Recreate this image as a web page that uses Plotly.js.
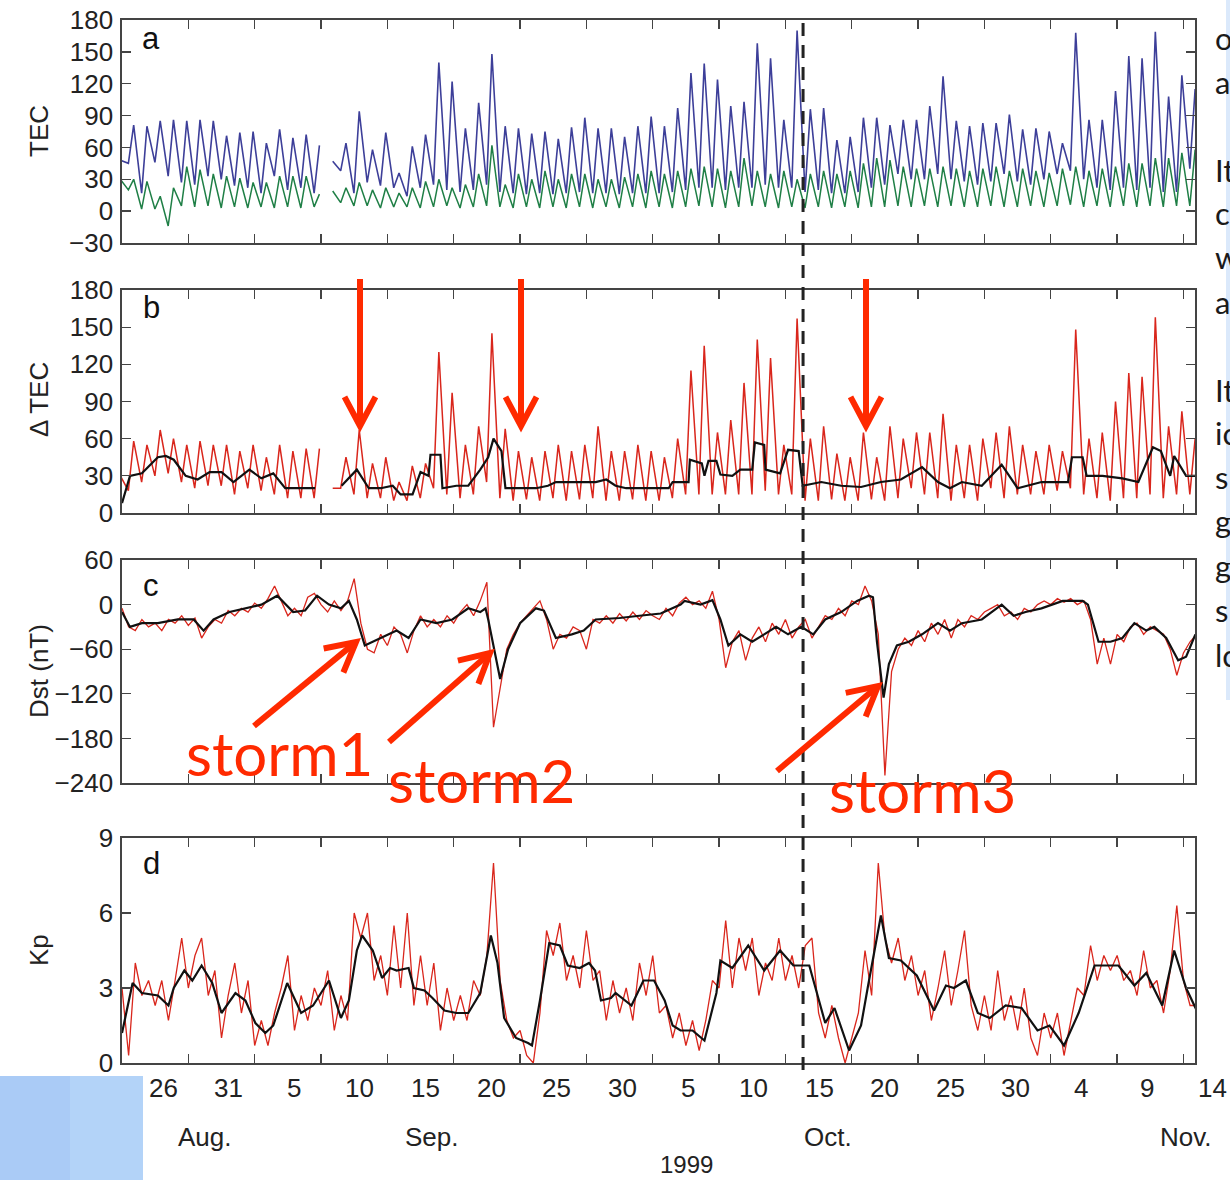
<!DOCTYPE html>
<html><head><meta charset="utf-8">
<script src="https://cdn.plot.ly/plotly-3.0.1.min.js"></script>
<style>html,body{margin:0;padding:0;background:#fff;} #chart{width:1230px;height:1180px;}</style>
</head><body><div id="chart"></div>
<script>
// ---------------- DATA ----------------
// day index n (days from the tick of 26 Aug), one diurnal cycle per day; null = data gap
const dayIndex = [-5,-4,-3,-2,-1,0,1,2,3,4,5,6,7,8,9,10,11,12,13,14,15,16,17,18,19,20,21,22,23,24,25,26,27,28,29,30,31,32,33,34,35,36,37,38,39,40,41,42,43,44,45,46,47,48,49,50,51,52,53,54,55,56,57,58,59,60,61,62,63,64,65,66,67,68,69,70,71,72,73,74,75,76];

// Panel a: TEC (blue) daily max / min
const tecBlueMax = [48,81,80,85,86,85,86,85,71,74, 75,64,77,69,72,62,47,64,94,58, 74,36,61,72,140,122,78,102,148,80, 78,73,75,68,79,88,78,78,70,80, 89,80,97,130,139,124,99,103,158,144, 86,170,96,97,67,70,88,88,81,86, 86,99,127,85,80,83,83,91,77,78, 75,64,168,86,86,113,146,144,169,108, 128,115];
const tecBlueMin = [null,45,17,46,33,27,25,33,30,24, 22,17,33,20,22,17,null,38,17,27, 24,22,14,22,25,20,18,20,25,18, 17,16,17,16,17,18,17,17,16,17, 17,17,18,20,22,22,20,22,22,25, 22,22,18,20,17,17,18,22,25,35, 30,30,35,30,28,25,28,35,28,25, 30,35,38,30,22,20,22,20,22,18, 18,40];
// Panel a: TEC (green) daily max / min
const tecGreenMax = [30,30,28,14,22,42,39,35,33,31, 27,27,33,33,33,16,19,22,27,20, 22,17,22,28,30,22,25,35,62,25, 35,30,38,30,35,35,30,30,32,35, 38,35,38,40,42,40,38,50,38,35, 38,30,35,38,35,38,45,50,48,42, 40,40,42,40,38,40,42,38,40,38, 36,40,42,38,40,42,45,45,50,50, 55,58];
const tecGreenMin = [null,20,2,2,-14,5,4,5,3,4, 3,4,3,4,3,4,null,8,5,5, 3,4,4,3,4,5,3,4,5,4, 3,4,3,4,3,4,3,4,3,4, 3,4,3,4,5,4,3,4,5,4, 3,4,3,4,3,4,3,4,4,5, 4,5,4,5,4,4,5,4,4,5, 4,5,6,4,5,4,5,4,5,4, 5,5];

// Panel b: ΔTEC (red) daily max / min
const dtecMax = [30,58,55,67,60,55,58,55,55,50, 55,45,55,50,52,52,20,45,67,40, 45,25,38,40,130,97,55,70,145,68, 50,45,50,55,50,55,70,50,50,55, 50,45,60,115,135,65,75,105,140,125, 55,157,60,70,48,45,65,45,70,60, 65,65,80,55,55,60,65,70,55,50, 55,50,148,60,65,90,113,110,158,70, 82,60];
const dtecMin = [null,18,25,30,32,25,20,22,22,15, 20,18,15,12,12,12,null,20,15,12, 12,10,10,12,20,15,12,15,25,12, 10,11,10,12,10,11,12,10,10,11, 10,10,12,15,15,15,15,15,15,18, 15,15,10,10,11,10,10,11,10,12, 20,15,12,10,12,10,20,12,15,15, 15,18,20,15,12,10,12,12,15,12, 15,15];
// Panel b: smoothed ΔTEC (black)
const dtecSmoothT = [-5,-4.4,-3.5,-2.3,-1.7,-1.1,-0.2,0.7,1.6,2.5,3.4,4.6,5.5,6.4,7.3,8.5,9.55,10.5,
  11.55,12.7,13.6,14.5,15.4,16.0,16.9,17.5,18.1,18.25,19.0,19.15,20.2,21.1,22.0,22.6,23.0,23.6,23.9,24.7,26.2,27.1,27.7,29.2,30.7,31.5,32.2,33.0,36.2,36.5,37.7,37.8,38.7,38.9,39.2,39.8,40.1,41.0,41.6,42.5,42.7,43.4,43.5,44.6,45.2,46.0,46.3,47.7,49.2,50.7,52.2,53.7,55.3,56.5,57.4,58.3,59.8,61.3,62.5,64.3,66.3,66.6,67.4,67.7,68.9,70.4,71.6,72.7,73.3,74.0,74.3,75.2,75.9];
const dtecSmoothV = [8,30,32,45,46,43,30,27,33,33,25,35,28,32,20,20,20,null,
  22,35,20,20,22,15,15,33,30,47,47,20,22,22,35,45,60,50,20,20,20,22,25,25,25,27,22,20,20,25,25,43,40,30,42,42,31,30,35,35,57,55,35,32,51,50,22,25,22,21,25,27,37,25,20,25,22,39,20,25,25,45,45,30,30,28,25,53,50,30,46,30,30];

// Panel c: Dst (nT), red = half-day samples from day -5, black = smoothed
const dstRed = [-5,-30,-35,-20,-30,-25,-35,-20,-25,-15, -28,-18,-45,-30,-20,-25,-8,-15,-5,-10,
  2,-5,8,25,5,-15,-5,-15,10,15, 0,-10,5,-8,5,35,-25,-60,-65,-40,
  -55,-30,-40,-65,-35,-15,-30,-20,-30,-15, -25,-10,0,-15,5,30,-165,-110,-60,-40,
  -25,-15,-5,5,-20,-60,-40,-45,-30,-35, -60,-20,-25,-15,-25,-12,-22,-10,-20,-8,
  -15,-20,-5,-15,2,10,0,5,-5,18, -20,-85,-50,-35,-75,-45,-30,-50,-25,-40,
  -20,-45,-30,-20,-45,-30,-15,-20,-5,-15, 5,0,25,5,-40,-230,-90,-60,-45,-55,
  -35,-50,-25,-40,-20,-45,-20,-30,-15,-20, -10,-5,0,-15,-10,-20,-5,-10,0,5,
  0,8,3,8,0,5,-20,-80,-45,-80, -40,-50,-30,-25,-40,-30,-35,-40,-60,-95,
  -65,-50,-40];
const dstSmoothT = [-5,-4.4,-3.5,-2.3,-0.8,0.4,1.15,1.9,3.1,4.3,5.5,6.7,7.9,8.8,9.7,10.6,11.5,12.1,12.7,13.3,14.5,15.7,16.6,17.5,18.7,19.9,21.1,22.0,22.4,22.6,23.5,24.1,25.0,26.2,26.8,27.7,28.9,29.8,30.7,32.5,34.0,35.6,37.1,37.4,38.6,39.5,40.1,40.7,41.6,42.5,43.4,44.3,45.2,46.2,47.1,48.0,49.2,50.4,51.3,51.6,51.9,52.4,52.8,53.4,54.3,55.3,56.5,57.4,58.3,59.8,61.3,62.2,63.1,64.3,65.9,67.4,67.8,68.6,69.5,70.4,71.3,72.2,72.8,73.7,74.6,75.2,75.9];
const dstSmoothV = [-10,-30,-25,-25,-20,-20,-35,-20,-10,-5,0,12,-10,-8,12,0,-5,5,-20,-55,-45,-35,-45,-20,-25,-20,-5,-10,-5,-20,-100,-60,-25,-5,-8,-45,-40,-35,-20,-18,-15,-12,0,5,0,6,-20,-55,-40,-50,-40,-30,-40,-30,-40,-20,-10,5,12,10,-50,-125,-80,-55,-50,-40,-25,-35,-25,-20,0,-15,-10,-5,5,5,0,-50,-50,-45,-25,-35,-30,-45,-75,-70,-40];

// Panel d: Kp, red = half-day samples from day -5, black = smoothed
const kpRed = [3.0,0.3,4.0,2.7,3.3,2.3,3.3,1.7,3.3,5.0, 3.0,4.3,5.0,2.7,3.7,1.0,2.7,4.0,2.0,3.3,
  0.7,1.7,0.7,2.0,3.0,4.3,1.3,2.7,1.7,3.0, 2.3,3.7,1.3,2.7,1.7,6.0,5.0,6.0,3.3,4.3,
  2.7,5.5,3.0,6.0,2.3,4.3,2.3,4.0,1.3,3.0, 1.7,2.7,1.7,3.3,2.7,4.3,8.0,3.3,1.7,1.0,
  1.3,0.3,0.0,2.0,5.3,4.3,5.6,3.3,4.3,3.0, 5.3,3.3,3.7,1.7,3.3,2.0,3.0,1.7,4.0,2.7,
  4.3,2.0,2.3,1.0,2.0,0.7,1.7,0.5,1.7,3.3, 3.0,5.7,3.0,5.0,3.7,5.0,2.7,4.0,3.3,5.0,
  3.3,4.3,3.0,4.7,5.0,2.0,1.0,2.3,1.0,0.0, 1.0,2.0,4.5,2.7,8.0,5.0,4.0,5.0,3.3,4.3,
  2.7,3.7,1.7,3.0,4.5,2.3,3.7,5.3,2.3,1.3, 2.7,1.3,3.7,1.7,2.7,1.3,3.0,1.0,0.3,2.0,
  1.0,2.0,0.3,1.7,3.0,2.7,4.7,3.3,4.3,3.7, 4.3,3.3,3.7,2.7,4.5,3.0,3.3,2.0,3.7,6.3,
  3.3,2.3,2.3];
const kpSmoothT = [-5,-4.2,-3.5,-2.3,-1.5,-1.1,-0.3,0.3,1.0,1.8,2.5,3.55,4.3,5.05,5.8,6.4,7.45,8.5,9.4,10.6,11.5,12.1,12.7,13.1,13.9,14.6,15.2,15.7,16.6,17.0,17.8,18.4,19.3,20.2,21.1,22.0,22.8,23.3,23.8,24.7,25.6,25.9,26.5,27.2,28.0,28.6,29.5,30.2,30.65,31.1,31.85,32.2,33.4,34.3,35.1,35.9,36.5,37.1,38.0,38.9,39.8,40.1,41.0,42.2,43.4,44.6,45.6,46.8,48.0,48.7,49.8,50.7,51.2,52.2,52.8,53.7,54.9,56.2,57.1,57.7,58.6,59.5,60.4,61.6,62.8,64.0,64.9,66.0,67.1,68.3,69.2,70.1,71.3,72.2,73.4,74.3,75.2,76.0];
const kpSmoothV = [1.2,3.2,2.8,2.7,2.3,3.0,3.7,3.3,3.9,3.2,2.0,2.8,2.5,1.6,1.2,1.5,3.2,2.0,2.3,3.3,1.8,2.5,4.5,5.1,4.5,3.4,3.8,3.7,3.8,3.0,2.9,2.6,2.1,2.0,2.0,2.8,5.1,4.0,1.8,1.0,0.8,0.7,2.5,4.8,4.7,3.9,3.8,4.0,3.7,2.5,2.6,2.8,2.3,3.3,3.3,2.5,1.5,1.3,1.3,0.9,2.8,4.1,3.8,4.7,3.7,4.5,3.9,3.9,1.6,2.2,0.5,1.5,3.0,5.9,4.2,4.1,3.5,2.1,3.1,3.0,3.3,2.0,1.8,2.3,2.2,1.3,1.5,0.7,2.0,3.9,3.9,3.9,3.1,3.6,2.3,4.5,3.0,2.1];

// axis ticks / labels
const xTickDays = [-5,0,5,10,15,20,25,30,35,40,45,50,55,60,65,70,75];
const xTickLabels = ['26','31','5','10','15','20','25','30','5','10','15','20','25','30','4','9','14'];
const monthLabels = ['Aug.','Sep.','Oct.','Nov.'];
const yearLabel = '1999';
const markerDay = 46.33;  // dashed vertical line
const panelLetters = ['a','b','c','d'];
const yTitles = ['TEC','Δ TEC','Dst (nT)','Kp'];
const stormLabels = ['storm1','storm2','storm3'];
const sideText = ['o','a','It','c','w','a','It','ic','s','g','g','s','lc'];

// ---------------- BUILD ----------------
function diurnal(mins, maxs){
  const x=[], y=[];
  dayIndex.forEach((n,i)=>{ x.push(n-0.52); y.push(mins[i]); x.push(n-0.12); y.push(maxs[i]); });
  return {x,y};
}
const halfDay = arr => arr.map((_,i)=>-5+0.5*i);

const BLUE='#3d3f99', GREEN='#1f7f46', RED='#d9261c', BLACK='#111111', ARROW='#ff2a00';

const b = diurnal(tecBlueMin, tecBlueMax);
const g = diurnal(tecGreenMin, tecGreenMax);
const r = diurnal(dtecMin, dtecMax);

const traces = [
  {x:b.x, y:b.y, xaxis:'x', yaxis:'y', mode:'lines', line:{color:BLUE,width:1.6}},
  {x:g.x, y:g.y, xaxis:'x', yaxis:'y', mode:'lines', line:{color:GREEN,width:1.5}},
  {x:r.x, y:r.y, xaxis:'x2', yaxis:'y2', mode:'lines', line:{color:RED,width:1.5}},
  {x:dtecSmoothT, y:dtecSmoothV, xaxis:'x2', yaxis:'y2', mode:'lines', line:{color:BLACK,width:2.2}},
  {x:halfDay(dstRed), y:dstRed, xaxis:'x3', yaxis:'y3', mode:'lines', line:{color:RED,width:1.3}},
  {x:dstSmoothT, y:dstSmoothV, xaxis:'x3', yaxis:'y3', mode:'lines', line:{color:BLACK,width:2.2}},
  {x:halfDay(kpRed), y:kpRed, xaxis:'x4', yaxis:'y4', mode:'lines', line:{color:RED,width:1.3}},
  {x:kpSmoothT, y:kpSmoothV, xaxis:'x4', yaxis:'y4', mode:'lines', line:{color:BLACK,width:2.2}}
];
traces.forEach(t=>{t.connectgaps=false; t.hoverinfo='skip'; t.showlegend=false;});

// pixel helpers for page decorations (plot area: 122..1195 x 20..1063)
const L=122, R=35, T=20, B=117, W=1230-L-R, H=1180-T-B;
const PX = x => (x-L)/W;
const PY = y => (1180-B-y)/H;

const AXF = {family:'Liberation Sans, Arial, sans-serif', size:26, color:'#222'};
function xax(anchor){
  return {anchor, range:[-5,75.87], tickmode:'array', tickvals:xTickDays, ticks:'inside', ticklen:9, tickwidth:1.3,
    tickcolor:'#444', showline:true, linecolor:'#444', linewidth:1.6, mirror:'ticks', showticklabels:false,
    showgrid:false, zeroline:false, fixedrange:true};
}
function yax(dom, range, vals, anchor){
  return {domain:dom, anchor, range, tickmode:'array', tickvals:vals, ticks:'inside', ticklen:9, tickwidth:1.3,
    tickcolor:'#444', showline:true, linecolor:'#444', linewidth:1.6, mirror:'ticks', tickfont:AXF,
    showgrid:false, zeroline:false, fixedrange:true, ticklabelstandoff:2};
}

const layout = {
  width:1230, height:1180, margin:{l:L,r:R,t:T,b:B,pad:0},
  paper_bgcolor:'#fff', plot_bgcolor:'#fff', showlegend:false, hovermode:false,
  font:{family:'Liberation Sans, Arial, sans-serif'},
  xaxis:xax('y'), xaxis2:Object.assign(xax('y2'),{matches:'x'}),
  xaxis3:Object.assign(xax('y3'),{matches:'x'}), xaxis4:Object.assign(xax('y4'),{matches:'x'}),
  yaxis: yax([PY(243),PY(20)], [-30,180], [-30,0,30,60,90,120,150,180], 'x'),
  yaxis2:yax([PY(513),PY(290)], [0,180], [0,30,60,90,120,150,180], 'x2'),
  yaxis3:yax([PY(783),PY(560)], [-240,60], [-240,-180,-120,-60,0,60], 'x3'),
  yaxis4:yax([PY(1063),PY(838)], [0,9], [0,3,6,9], 'x4'),
  annotations:[], shapes:[]
};

const A = layout.annotations, S = layout.shapes;
function txt(t, x, y, font, extra){
  A.push(Object.assign({text:t, xref:'paper', yref:'paper', x:PX(x), y:PY(y), xanchor:'center', yanchor:'middle',
    showarrow:false, font}, extra||{}));
}
// panel letters
const letterY = [38, 308, 585, 863];
panelLetters.forEach((t,i)=>txt(t, 151, letterY[i], {family:'Liberation Sans, Arial, sans-serif', size:31, color:'#111'}));
// y titles
const yTitleY = [131, 400, 671, 950];
yTitles.forEach((t,i)=>txt(t, 39, yTitleY[i], {family:'Liberation Sans, Arial, sans-serif', size:26, color:'#222'}, {textangle:-90}));
// x tick labels (offset from tick marks as in the original figure)
xTickLabels.forEach((t,i)=>txt(t, 163+65.6*i, 1088, AXF));
const monthX = [205, 432, 828, 1186];
monthLabels.forEach((t,i)=>txt(t, monthX[i], 1137, AXF));
txt(yearLabel, 686, 1164, {family:'Liberation Sans, Arial, sans-serif', size:24, color:'#222'});
// storm labels
const stormPos = [[279,753],[481,780],[922,790]];
stormLabels.forEach((t,i)=>txt(t, stormPos[i][0], stormPos[i][1], {family:'Lato, Open Sans, sans-serif', size:60, color:ARROW}));
// cut-off slide text on the right
const sideY = [38,82,170,213,257,302,390,433,477,521,566,610,655];
sideText.forEach((t,i)=>txt(t, 1213, sideY[i], {family:'Lato, Open Sans, sans-serif', size:31, color:'#1a1a1a'}, {xanchor:'left'}));

// dashed marker line
S.push({type:'line', xref:'x', yref:'paper', x0:markerDay, x1:markerDay, y0:PY(1070), y1:PY(22),
  line:{color:'#222', width:3, dash:'13px,9px'}});

// arrows (tail -> tip in page pixels)
function arrow(tail, tip){
  const dx=tail[0]-tip[0], dy=tail[1]-tip[1], len=Math.hypot(dx,dy), ux=dx/len, uy=dy/len;
  const ang=28*Math.PI/180, armL=33;
  const rot=(a)=>[tip[0]+armL*(ux*Math.cos(a)-uy*Math.sin(a)), tip[1]+armL*(ux*Math.sin(a)+uy*Math.cos(a))];
  const p1=rot(ang), p2=rot(-ang);
  const end=[tip[0]+ux*3, tip[1]+uy*3];
  S.push({type:'line', xref:'paper', yref:'paper', x0:PX(tail[0]), y0:PY(tail[1]), x1:PX(end[0]), y1:PY(end[1]),
    line:{color:ARROW, width:6}});
  S.push({type:'path', xref:'paper', yref:'paper',
    path:`M${PX(p1[0])},${PY(p1[1])} L${PX(tip[0])},${PY(tip[1])} L${PX(p2[0])},${PY(p2[1])}`,
    line:{color:ARROW, width:6}});
}
arrow([360,279],[360,426]);
arrow([521,279],[521,426]);
arrow([866,279],[866,426]);
arrow([254,726],[356,642]);
arrow([389,742],[490,653]);
arrow([777,771],[878,686]);

// slide decorations
S.push({type:'rect', xref:'paper', yref:'paper', x0:PX(0), x1:PX(143), y0:PY(1180), y1:PY(1076), line:{width:0}, fillcolor:'#aacbf6'});
S.push({type:'rect', xref:'paper', yref:'paper', x0:PX(70), x1:PX(143), y0:PY(1180), y1:PY(1076), line:{width:0}, fillcolor:'#b3d3f8'});
S.push({type:'rect', xref:'paper', yref:'paper', x0:PX(1226), x1:PX(1230), y0:PY(700), y1:PY(0), line:{width:0}, fillcolor:'#dbe9fb'});

Plotly.newPlot('chart', traces, layout, {displayModeBar:false, staticPlot:true});
</script></body></html>
